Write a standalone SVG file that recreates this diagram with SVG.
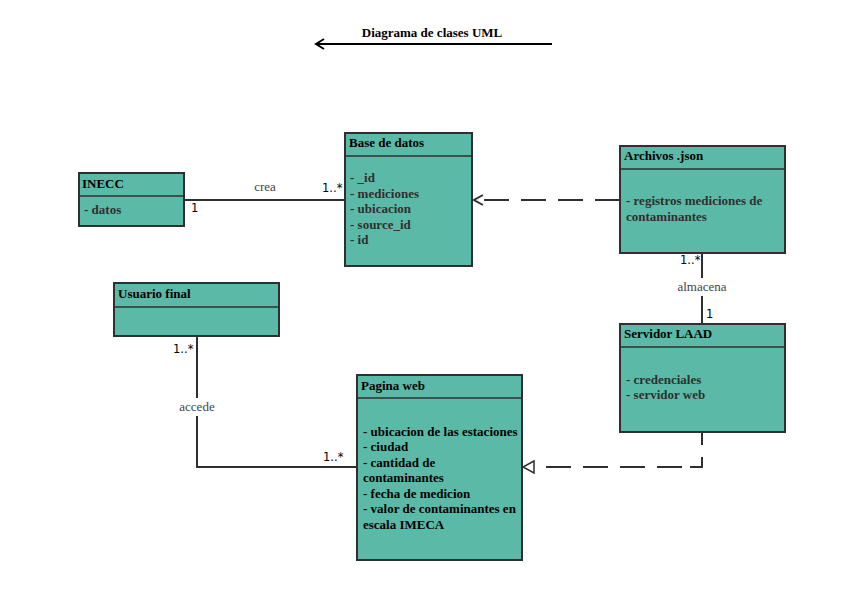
<svg xmlns="http://www.w3.org/2000/svg" width="862" height="591" viewBox="0 0 862 591">
<style>
.box{fill:#5bbaa7;stroke:#2f2f2f;stroke-width:2}
.div{stroke:#2f2f2f;stroke-width:1.5}
.t{font-family:"Liberation Serif","DejaVu Serif",serif;font-weight:bold;font-size:13px;fill:#000}
.a{font-family:"Liberation Serif","DejaVu Serif",serif;font-weight:bold;font-size:13px;fill:#2f2f2f}
.lbl{font-family:"Liberation Serif","DejaVu Serif",serif;font-size:13px;fill:#444}
.m{font-family:"DejaVu Sans","Liberation Sans",sans-serif;font-size:11.5px;fill:#000}
.ln{stroke:#2f2f2f;stroke-width:2;fill:none}
.dash{stroke:#2f2f2f;stroke-width:2;fill:none;stroke-dasharray:25 12}
</style>
<rect width="862" height="591" fill="#fff"/>
<g id="title">
<text x="432" y="37" text-anchor="middle" class="t">Diagrama de clases UML</text>
<path d="M552 44 H316 M324 39 L316 44 L324 49" stroke="#000" stroke-width="2" fill="none"/>
</g>
<g id="connectors">
<line x1="184" y1="200" x2="345" y2="200" class="ln"/>
<text x="265" y="191" text-anchor="middle" class="lbl">crea</text>
<text x="322" y="192" class="m">1..*</text>
<text x="191" y="212" class="m">1</text>
<line x1="620" y1="200" x2="474" y2="200" class="dash"/>
<path d="M483 195 L474 200 L483 205" class="ln"/>
<path d="M702 253 V278 M702 296 V324" class="ln"/>
<text x="702" y="291" text-anchor="middle" class="lbl">almacena</text>
<text x="680" y="264" class="m">1..*</text>
<text x="706" y="318" class="m">1</text>
<path d="M197 336 V398 M197 416 V467 H357" class="ln"/>
<text x="197" y="411" text-anchor="middle" class="lbl">accede</text>
<text x="173" y="353" class="m">1..*</text>
<text x="323" y="461" class="m">1..*</text>
<path d="M702 432 V445 M702 457 V467 H690" class="ln"/>
<line x1="682" y1="467" x2="534" y2="467" class="dash" stroke-dasharray="27 14"/>
<path d="M534 461 L523 467 L534 473 Z" fill="#fff" stroke="#2f2f2f" stroke-width="1.5"/>
</g>
<g id="inecc">
<rect x="79" y="173" width="105" height="53" class="box"/>
<line x1="79" y1="196" x2="184" y2="196" class="div"/>
<text x="82" y="188" class="t">INECC</text>
<text x="84" y="214" class="a">- datos</text>
</g>
<g id="basedatos">
<rect x="345" y="133" width="127" height="133" class="box"/>
<line x1="345" y1="156" x2="472" y2="156" class="div"/>
<text x="349" y="147" class="t">Base de datos</text>
<text x="350" y="182" class="a">- _id</text>
<text x="350" y="198" class="a">- mediciones</text>
<text x="350" y="213" class="a">- ubicacion</text>
<text x="350" y="229" class="a">- source_id</text>
<text x="350" y="244" class="a">- id</text>
</g>
<g id="archivos">
<rect x="620" y="146" width="165" height="107" class="box"/>
<line x1="620" y1="169" x2="785" y2="169" class="div"/>
<text x="624" y="160" class="t">Archivos .json</text>
<text x="626" y="205" class="a">- registros mediciones de</text>
<text x="626" y="221" class="a">contaminantes</text>
</g>
<g id="servidor">
<rect x="620" y="324" width="165" height="108" class="box"/>
<line x1="620" y1="347" x2="785" y2="347" class="div"/>
<text x="624" y="338" class="t">Servidor LAAD</text>
<text x="626" y="384" class="a">- credenciales</text>
<text x="626" y="399" class="a">- servidor web</text>
</g>
<g id="usuario">
<rect x="114" y="283" width="165" height="53" class="box"/>
<line x1="114" y1="307" x2="279" y2="307" class="div"/>
<text x="118" y="298" class="t">Usuario final</text>
</g>
<g id="pagina">
<rect x="357" y="375" width="165" height="185" class="box"/>
<line x1="357" y1="398" x2="522" y2="398" class="div"/>
<text x="361" y="390" class="t">Pagina web</text>
<text x="363" y="436" class="t">- ubicacion de las estaciones</text>
<text x="363" y="451" class="t">- ciudad</text>
<text x="363" y="467" class="t">- cantidad de</text>
<text x="363" y="482" class="t">contaminantes</text>
<text x="363" y="498" class="t">- fecha de medicion</text>
<text x="363" y="513" class="t">- valor de contaminantes en</text>
<text x="363" y="529" class="t">escala IMECA</text>
</g>
</svg>
